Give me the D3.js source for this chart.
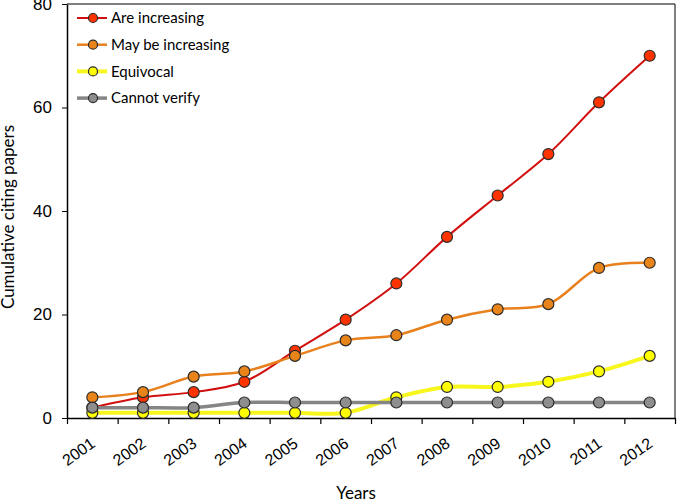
<!DOCTYPE html>
<html>
<head>
<meta charset="utf-8">
<script src="https://cdn.jsdelivr.net/npm/d3@7"></script>
<style>
  body { margin: 0; background: #fff; }
  svg { display: block; font-family: Lato, "Open Sans", sans-serif; }
</style>
</head>
<body>
<svg id="chart" width="677" height="502"></svg>
<script>
// data
var years = ["2001","2002","2003","2004","2005","2006","2007","2008","2009","2010","2011","2012"];
var areIncreasing   = [2, 4, 5, 7, 13, 19, 26, 35, 43, 51, 61, 70];
var mayBeIncreasing = [4, 5, 8, 9, 12, 15, 16, 19, 21, 22, 29, 30];
var equivocal       = [1, 1, 1, 1, 1, 1, 4, 6, 6, 7, 9, 12];
var cannotVerify    = [2, 2, 2, 3, 3, 3, 3, 3, 3, 3, 3, 3];
var yTicks = [0, 20, 40, 60, 80];

var series = [
  {name: "Are increasing",    values: areIncreasing,   line: "#d10f0f", fill: "#ff3300", width: 2},
  {name: "May be increasing", values: mayBeIncreasing, line: "#e8801e", fill: "#e8841a", width: 2.5},
  {name: "Equivocal",         values: equivocal,       line: "#f7f71e", fill: "#ffff00", width: 4},
  {name: "Cannot verify",     values: cannotVerify,    line: "#858585", fill: "#8e8e8e", width: 3.5}
];

var margin = {top: 4, right: 2, bottom: 84, left: 67},
    W = 677, H = 502,
    w = W - margin.left - margin.right,
    h = H - margin.top - margin.bottom;

var svg = d3.select("#chart");
var g = svg.append("g").attr("transform", `translate(${margin.left},${margin.top})`);

var x = d3.scaleBand().domain(years).range([0, w]).padding(0);
var xEdge = d3.scaleLinear().domain([0, years.length]).range([0, w]);
var y = d3.scaleLinear().domain([0, 80]).range([h, 0]);

// frame (top and right)
g.append("line").attr("x1", 0).attr("x2", w).attr("y1", 0).attr("y2", 0)
  .attr("stroke", "#000").attr("stroke-width", 1);
g.append("line").attr("x1", w).attr("x2", w).attr("y1", 0).attr("y2", h)
  .attr("stroke", "#000").attr("stroke-width", 1);

// y axis
var yAxis = g.append("g").attr("class", "y_axis_g")
  .call(d3.axisLeft(y).tickValues(yTicks).tickSize(5).tickPadding(10).tickSizeOuter(0));
yAxis.select(".domain").attr("stroke-width", 1.5);
yAxis.selectAll("text").style("font-size", "17px").attr("fill", "#000");

// x axis: ticks between categories, labels at centres
var xTickG = g.append("g").attr("transform", `translate(0,${h})`)
  .call(d3.axisBottom(xEdge).ticks(years.length).tickSize(6).tickFormat("").tickSizeOuter(0));
xTickG.select(".domain").attr("stroke-width", 1.5);
xTickG.selectAll(".tick line").attr("stroke-width", 1.2);

var xLab = g.append("g").attr("transform", `translate(0,${h})`)
  .call(d3.axisBottom(x).tickSize(0));
xLab.select(".domain").remove();
xLab.selectAll("text")
  .attr("x", 0).attr("y", 0).attr("dy", 0)
  .attr("text-anchor", "end")
  .attr("transform", "translate(4,28) rotate(-35)")
  .style("font-size", "16px").attr("fill", "#000");

// lines
var line = d3.line()
  .x((d, i) => x(years[i]) + x.bandwidth() / 2)
  .y(d => y(d))
  .curve(d3.curveCatmullRom);

series.forEach(function(s) {
  var sg = g.append("g");
  sg.append("path")
    .datum(s.values)
    .attr("d", line)
    .attr("fill", "none")
    .attr("stroke", s.line)
    .attr("stroke-width", s.width);
  sg.selectAll("circle")
    .data(s.values)
    .join("circle")
    .attr("cx", (d, i) => x(years[i]) + x.bandwidth() / 2)
    .attr("cy", d => y(d))
    .attr("r", 5.5)
    .attr("fill", s.fill)
    .attr("stroke", "#2b2b2b")
    .attr("stroke-width", 1.2);
});

// legend
var legend = g.append("g").attr("transform", "translate(10,14)");
series.forEach(function(s, i) {
  var lg = legend.append("g").attr("transform", `translate(0,${i * 26.7})`);
  lg.append("line").attr("x1", 0).attr("x2", 30).attr("y1", 0).attr("y2", 0)
    .attr("stroke", s.line).attr("stroke-width", s.width);
  lg.append("circle").attr("cx", 16).attr("cy", 0).attr("r", 4.5)
    .attr("fill", s.fill).attr("stroke", "#2b2b2b").attr("stroke-width", 1.2);
  lg.append("text").attr("x", 34).attr("y", 0).attr("dy", "0.35em")
    .style("font-size", "15px").text(s.name);
});

// axis titles
svg.append("text")
  .attr("transform", "translate(14,217) rotate(-90)")
  .attr("text-anchor", "middle")
  .style("font-size", "17px")
  .text("Cumulative citing papers");

svg.append("text")
  .attr("x", 356).attr("y", 499)
  .attr("text-anchor", "middle")
  .style("font-size", "17px")
  .text("Years");
</script>
</body>
</html>
